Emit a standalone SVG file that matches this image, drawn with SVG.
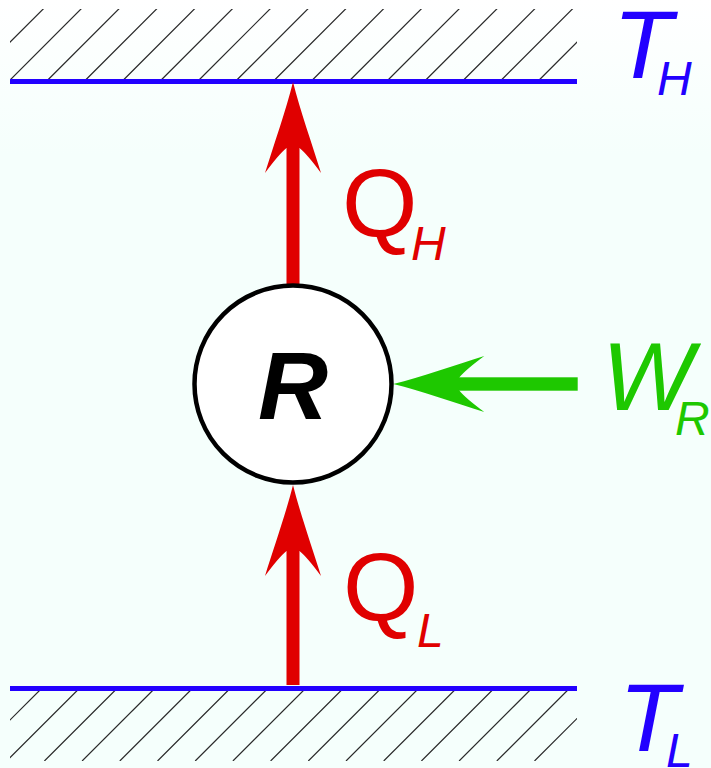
<svg xmlns="http://www.w3.org/2000/svg" width="711" height="768" viewBox="0 0 711 768">
<style>
.hatch{stroke:#2a2a2a;stroke-width:1.2;fill:none}
.wall{stroke:#2200ff;stroke-width:5;fill:none}
.lbl{font-family:"Liberation Sans",Arial,sans-serif}
.big{font-size:97px}
.sub{font-size:48px}
.it{font-style:italic}
.red{fill:#e00000}
.blue{fill:#2200ff}
.green{fill:#1ec800}
</style>
<defs>
<linearGradient id="bg" x1="0" y1="0" x2="0" y2="1">
<stop offset="0" stop-color="#ffffff"/>
<stop offset="0.2" stop-color="#f5fffc"/>
<stop offset="1" stop-color="#f5fffc"/>
</linearGradient>
<path id="head" d="M0,0 C7,28 19,62 28,91 Q14,72 6.5,66 L-6.5,66 Q-14,72 -28,91 C-19,62 -7,28 0,0 Z"/>
<clipPath id="ctop"><rect x="10" y="9" width="567" height="72"/></clipPath>
<clipPath id="cbot"><rect x="10" y="689" width="567" height="72"/></clipPath>
</defs>
<rect width="711" height="768" fill="url(#bg)"/>

<g id="hot-reservoir">
<g clip-path="url(#ctop)" class="hatch">
<path d="M-65.6,80 l72,-72 M-27.8,80 l72,-72 M10,80 l72,-72 M47.8,80 l72,-72 M85.6,80 l72,-72 M123.4,80 l72,-72 M161.2,80 l72,-72 M199,80 l72,-72 M236.8,80 l72,-72 M274.6,80 l72,-72 M312.4,80 l72,-72 M350.2,80 l72,-72 M388,80 l72,-72 M425.8,80 l72,-72 M463.6,80 l72,-72 M501.4,80 l72,-72 M539.2,80 l72,-72"/>
</g>
<line class="wall" x1="10" y1="81.5" x2="577" y2="81.5"/>
<text class="lbl big it blue" x="613" y="78">T</text>
<text class="lbl sub it blue" x="657" y="95">H</text>
</g>

<g id="cold-reservoir">
<g clip-path="url(#cbot)" class="hatch">
<path d="M-68.7,761 l72,-72 M-31,761 l72,-72 M6.7,761 l72,-72 M44.4,761 l72,-72 M82.1,761 l72,-72 M119.8,761 l72,-72 M157.5,761 l72,-72 M195.2,761 l72,-72 M232.9,761 l72,-72 M270.6,761 l72,-72 M308.3,761 l72,-72 M346,761 l72,-72 M383.7,761 l72,-72 M421.4,761 l72,-72 M459.1,761 l72,-72 M496.8,761 l72,-72 M534.5,761 l72,-72"/>
</g>
<line class="wall" x1="10" y1="688.5" x2="577" y2="688.5"/>
<text class="lbl big it blue" x="619" y="751">T</text>
<text class="lbl sub it blue" x="666" y="767">L</text>
</g>

<g id="connectors">
<g id="arrow-QH" class="red">
<rect x="286.5" y="146" width="13" height="140"/>
<use href="#head" transform="translate(293,82)"/>
</g>
<g id="arrow-QL" class="red">
<rect x="286.5" y="548" width="13" height="137"/>
<use href="#head" transform="translate(293,485)"/>
</g>
<g id="arrow-WR" class="green">
<rect x="454" y="377.3" width="123.7" height="13.4"/>
<use href="#head" transform="translate(393.3,384) rotate(-90)"/>
</g>
</g>

<g id="refrigerator">
<circle cx="293" cy="384" r="98.5" fill="#ffffff" stroke="#000" stroke-width="4.5"/>
<text class="lbl big it" x="293" y="419" text-anchor="middle" font-weight="bold" fill="#000">R</text>
</g>

<g id="label-QH">
<text class="lbl big red" x="342" y="237">Q</text>
<text class="lbl sub it red" x="411" y="260">H</text>
</g>
<g id="label-QL">
<text class="lbl big red" x="343" y="621">Q</text>
<text class="lbl sub it red" x="417" y="647">L</text>
</g>
<g id="label-WR">
<text class="lbl big it green" x="602" y="410">W</text>
<text class="lbl sub it green" x="675" y="435">R</text>
</g>
</svg>
